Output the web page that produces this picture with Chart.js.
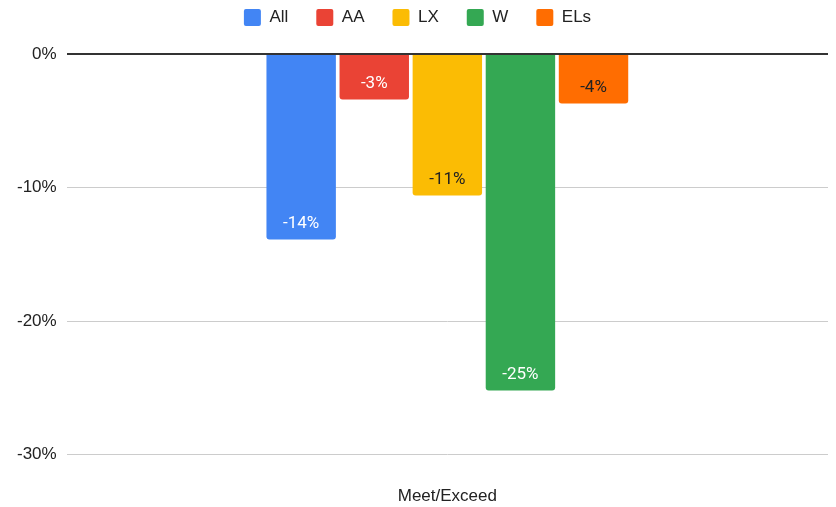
<!DOCTYPE html>
<html>
<head>
<meta charset="utf-8">
<script src="https://cdn.jsdelivr.net/npm/chart.js@4.4.0/dist/chart.umd.min.js"></script>
<style>
  html, body { margin: 0; padding: 0; background: #fff; }
  #wrap { width: 836px; height: 507px; position: relative; }
</style>
</head>
<body>
<div id="wrap"><canvas id="c"></canvas></div>
<script>
// chart data
const categories = ['Meet/Exceed'];
const seriesNames = ['All', 'AA', 'LX', 'W', 'ELs'];
const seriesValues = [[-13.9], [-3.4], [-10.6], [-25.2], [-3.7]];
const seriesColors = ['#4285F4', '#EA4335', '#FBBC04', '#34A853', '#FF6D01'];
const labelColors = ['#ffffff', '#ffffff', '#222222', '#ffffff', '#222222'];
const yTicks = [0, -10, -20, -30];

// value labels drawn inside the end of each bar
const barLabels = {
  id: 'barLabels',
  afterDatasetsDraw(chart) {
    const ctx = chart.ctx;
    ctx.save();
    ctx.font = '17px Roboto';
    ctx.textAlign = 'center';
    ctx.textBaseline = 'middle';
    chart.data.datasets.forEach((ds, i) => {
      chart.getDatasetMeta(i).data.forEach((bar, j) => {
        ctx.fillStyle = labelColors[i];
        ctx.fillText(Math.round(ds.data[j]) + '%', bar.x, bar.y - 16);
      });
    });
    ctx.restore();
  }
};

// extra room under the legend
const legendGap = {
  id: 'legendGap',
  beforeInit(chart) {
    const fit = chart.legend.fit;
    chart.legend.fit = function () {
      fit.call(this);
      this.height += 18;
    };
  }
};

new Chart(document.getElementById('c'), {
  type: 'bar',
  data: {
    labels: categories,
    datasets: seriesNames.map((name, i) => ({
      label: name,
      data: seriesValues[i],
      backgroundColor: seriesColors[i],
      borderRadius: { topLeft: 0, topRight: 0, bottomLeft: 3, bottomRight: 3 },
      borderSkipped: false,
      categoryPercentage: 0.48,
      barPercentage: 0.95
    }))
  },
  options: {
    responsive: true,
    maintainAspectRatio: false,
    animation: false,
    layout: { padding: { left: 7, right: 8, top: -19, bottom: -24 } },
    plugins: {
      legend: {
        position: 'top',
        labels: {
          font: { family: 'Liberation Sans', size: 17 },
          color: '#222',
          boxWidth: 17,
          boxHeight: 17,
          useBorderRadius: true,
          borderRadius: 2,
          padding: 28
        }
      },
      tooltip: { enabled: false }
    },
    scales: {
      x: {
        grid: { display: false },
        border: { display: false },
        ticks: {
          font: { family: 'Liberation Sans', size: 17 },
          color: '#222',
          padding: 24
        }
      },
      y: {
        min: -30,
        max: 0,
        afterBuildTicks(axis) {
          axis.ticks = yTicks.map(v => ({ value: v }));
        },
        border: { display: false },
        grid: {
          color: ctx => ctx.tick && ctx.tick.value === 0 ? '#333' : '#ccc',
          lineWidth: ctx => ctx.tick && ctx.tick.value === 0 ? 2 : 1,
          drawTicks: false
        },
        ticks: {
          font: { family: 'Liberation Sans', size: 17 },
          color: '#222',
          padding: 10,
          callback: v => v + '%'
        }
      }
    }
  },
  plugins: [barLabels, legendGap]
});
</script>
</body>
</html>
